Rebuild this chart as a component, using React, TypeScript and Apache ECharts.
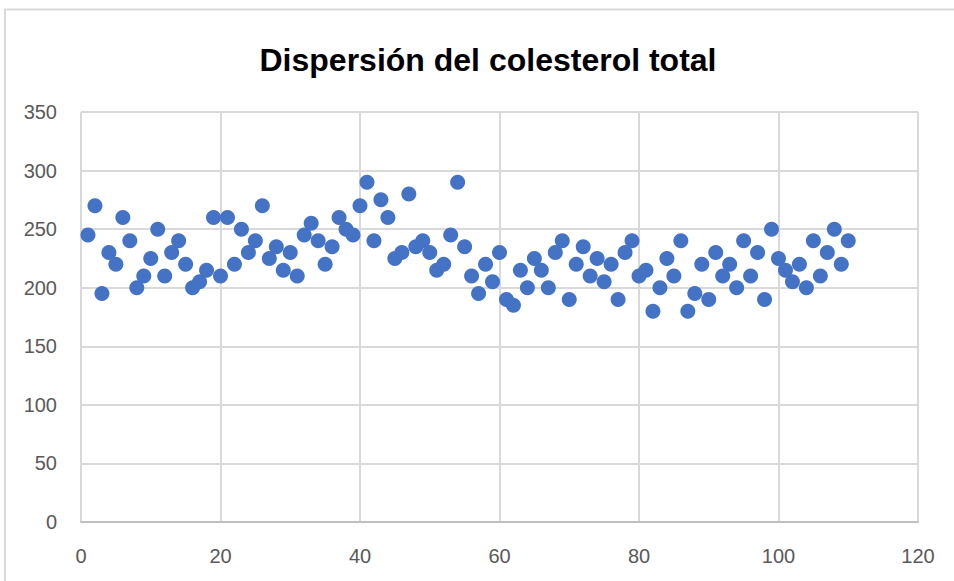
import React, { useEffect, useRef } from "react";
import * as echarts from "echarts";

const title = "Dispersión del colesterol total";
const xTicks = [0, 20, 40, 60, 80, 100, 120];
const yTicks = [0, 50, 100, 150, 200, 250, 300, 350];
const colesterol = [
  245, 270, 195, 230, 220, 260, 240, 200, 210, 225,
  250, 210, 230, 240, 220, 200, 205, 215, 260, 210,
  260, 220, 250, 230, 240, 270, 225, 235, 215, 230,
  210, 245, 255, 240, 220, 235, 260, 250, 245, 270,
  290, 240, 275, 260, 225, 230, 280, 235, 240, 230,
  215, 220, 245, 290, 235, 210, 195, 220, 205, 230,
  190, 185, 215, 200, 225, 215, 200, 230, 240, 190,
  220, 235, 210, 225, 205, 220, 190, 230, 240, 210,
  215, 180, 200, 225, 210, 240, 180, 195, 220, 190,
  230, 210, 220, 200, 240, 210, 230, 190, 250, 225,
  215, 205, 220, 200, 240, 210, 230, 250, 220, 240,
];

export default function App() {
  const ref = useRef<HTMLDivElement>(null);
  useEffect(() => {
    if (!ref.current) return;
    const chart = echarts.init(ref.current, undefined, { renderer: "svg" });
    const data = colesterol.map((v, i) => [i + 1, v]);
    const font = "'Liberation Sans', Arial, sans-serif";
    chart.setOption({
      animation: false,
      backgroundColor: "#ffffff",
      title: {
        text: title,
        left: 483,
        textAlign: "center",
        top: 39,
        textStyle: {
          fontFamily: font,
          fontWeight: "bold",
          fontSize: 32,
          color: "#000000",
        },
      },
      graphic: [
        {
          type: "rect",
          shape: { x: 5, y: 9.5, width: 1000, height: 700 },
          style: { fill: "none", stroke: "#d9d9d9", lineWidth: 2 },
          silent: true,
        },
      ],
      grid: { left: 81, right: 36, top: 112, bottom: 59 },
      xAxis: {
        type: "value",
        min: xTicks[0],
        max: xTicks[xTicks.length - 1],
        interval: 20,
        axisLine: { show: true, lineStyle: { color: "#bfbfbf", width: 2 } },
        axisTick: { show: false },
        axisLabel: {
          margin: 24,
          fontFamily: font,
          fontSize: 20,
          color: "#595959",
        },
        splitLine: { show: true, lineStyle: { color: "#d9d9d9", width: 2 } },
      },
      yAxis: {
        type: "value",
        min: yTicks[0],
        max: yTicks[yTicks.length - 1],
        interval: 50,
        axisLine: { show: false },
        axisTick: { show: false },
        axisLabel: {
          margin: 24,
          fontFamily: font,
          fontSize: 20,
          color: "#595959",
        },
        splitLine: { show: true, lineStyle: { color: "#d9d9d9", width: 2 } },
      },
      series: [
        {
          type: "scatter",
          data,
          symbol: "circle",
          symbolSize: 15,
          itemStyle: { color: "#4472c4", opacity: 1 },
        },
      ],
    });
    return () => chart.dispose();
  }, []);
  return (
    <div
      ref={ref}
      style={{ position: "fixed", left: 0, top: 0, width: 954, height: 581 }}
    />
  );
}
